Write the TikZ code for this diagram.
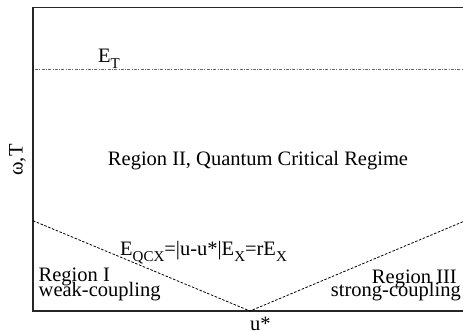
\documentclass[tikz,border=0pt]{standalone}
\usepackage{fontspec}
\setmainfont{Liberation Serif}
\newcommand{\lbl}{\fontsize{20.5}{20.5}\selectfont}
\newcommand{\sbs}[1]{\raisebox{-6.6pt}{\fontsize{15}{15}\selectfont #1}}
\begin{document}
\begin{tikzpicture}[x=1pt,y=-1pt,
  frame/.style={line width=1.4pt, black!85},
  bound/.style={line width=0.8pt, dash pattern=on 2.5pt off 1.6pt, black},
  etline/.style={line width=0.9pt, gray!80!black, dash pattern=on 3pt off 1.3pt on 1pt off 1.3pt},
  txt/.style={inner sep=0pt, font=\lbl}]
\useasboundingbox (0,0) rectangle (463,330);
% frame
\coordinate (tl) at (33,7.3);
\coordinate (tr) at (464,7.3);
\coordinate (bl) at (33,311);
\coordinate (br) at (464,311);
\draw[frame] (tr) -- (tl) -- (bl) -- (br);
% E_T line
\coordinate (etl) at (35,69);
\coordinate (etr) at (463,69);
\draw[etline] (etl) -- (etr);
% V boundary
\coordinate (vl) at (33,220.7);
\coordinate (vm) at (250,311);
\coordinate (vr) at (463,221.7);
\draw[bound] (vl) -- (vm) -- (vr);
% texts
\node[txt, anchor=base west] (et) at (98,62) {E\sbs{T}};
\node[txt, anchor=base] (r2) at (258,165) {Region II, Quantum Critical Regime};
\node[txt, anchor=base west] (eq) at (120,255) {E\sbs{QCX}=|u-u*|E\sbs{X}=rE\sbs{X}};
\node[txt, anchor=base west] (r1a) at (38.5,281.5) {Region I};
\node[txt, anchor=base west] (r1b) at (38.5,296) {weak-coupling};
\node[txt, anchor=base east] (r3a) at (457,283) {Region III};
\node[txt, anchor=base east] (r3b) at (461,296.5) {strong-coupling};
\node[txt, anchor=base west] (us) at (250,330) {u*};
\node[txt, anchor=base, rotate=90] (wt) at (22.5,160) {ω,T};
\end{tikzpicture}
\end{document}
